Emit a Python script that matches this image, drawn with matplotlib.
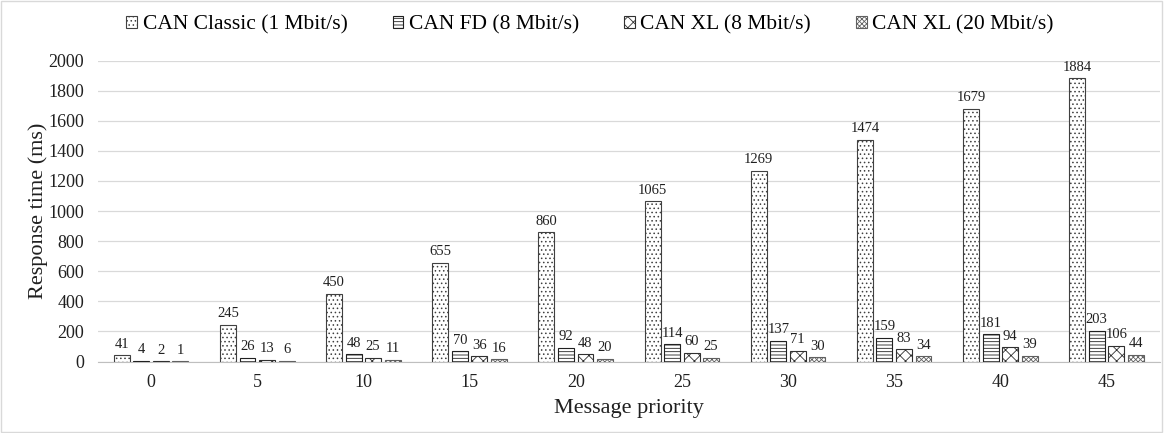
import numpy as np
import matplotlib
matplotlib.use('Agg')
import matplotlib.pyplot as plt
from matplotlib.patches import Rectangle

# Response times per message priority

priorities = ["0", "5", "10", "15", "20", "25", "30", "35", "40", "45"]
series_names = ["CAN Classic (1 Mbit/s)", "CAN FD (8 Mbit/s)",
                "CAN XL (8 Mbit/s)", "CAN XL (20 Mbit/s)"]
can_classic = [41, 245, 450, 655, 860, 1065, 1269, 1474, 1679, 1884]
can_fd = [4, 26, 48, 70, 92, 114, 137, 159, 181, 203]
can_xl_8 = [2, 13, 25, 36, 48, 60, 71, 83, 94, 106]
can_xl_20 = [1, 6, 11, 16, 20, 25, 30, 34, 39, 44]

plt.rcParams['font.family'] = ['Liberation Serif', 'DejaVu Serif']
plt.rcParams['hatch.linewidth'] = 0.6

fig = plt.figure(figsize=(11.64, 4.33), dpi=100)
ax = fig.add_axes([0.0842, 0.165, 0.912, 0.695])

hatches = ['....', '-----', 'xxx', 'xxxxxxx']
colors = ['#404040', '#202020', '#303030', '#606060']
width = 0.15
pitch = 0.184
X = np.arange(len(priorities))
all_series = [can_classic, can_fd, can_xl_8, can_xl_20]
for k, vals in enumerate(all_series):
    pos = X + (k - 1.5) * pitch
    bars = ax.bar(pos, vals, width, facecolor='white', edgecolor=colors[k],
                  hatch=hatches[k], linewidth=0.8, label=series_names[k], zorder=3)
    for b, v in zip(bars, vals):
        ax.text(b.get_x() + b.get_width() / 2, v + 30, str(v), ha='center',
                va='bottom', fontsize=10.5, color='#202020')

ax.set_xlim(-0.5, 9.5)
ax.set_ylim(0, 2000)
ax.set_yticks(range(0, 2001, 200))
ax.set_xticks(X)
ax.set_xticklabels(priorities)
ax.tick_params(axis='both', length=0, labelsize=13, colors='#202020')
ax.tick_params(axis='x', pad=9)
ax.tick_params(axis='y', pad=10)
ax.grid(axis='y', color='#d9d9d9', linewidth=0.9, zorder=0)
for s in ['top', 'right', 'left']:
    ax.spines[s].set_visible(False)
ax.spines['bottom'].set_color('#bfbfbf')
ax.set_ylabel("Response time (ms)", fontsize=16, color='#202020', labelpad=0)
ax.set_xlabel("Message priority", fontsize=16, color='#202020', labelpad=6)

fig.legend(loc='upper center', bbox_to_anchor=(0.507, 1.01), ncol=4, frameon=False,
           fontsize=15.5, handlelength=0.5, handleheight=0.5, handletextpad=0.25,
           columnspacing=2.1)

fig.patches.append(Rectangle((0.001, 0.002), 0.997, 0.995, transform=fig.transFigure,
                             fill=False, edgecolor='#d9d9d9', linewidth=1))

fig.savefig("out.png", dpi=100)
